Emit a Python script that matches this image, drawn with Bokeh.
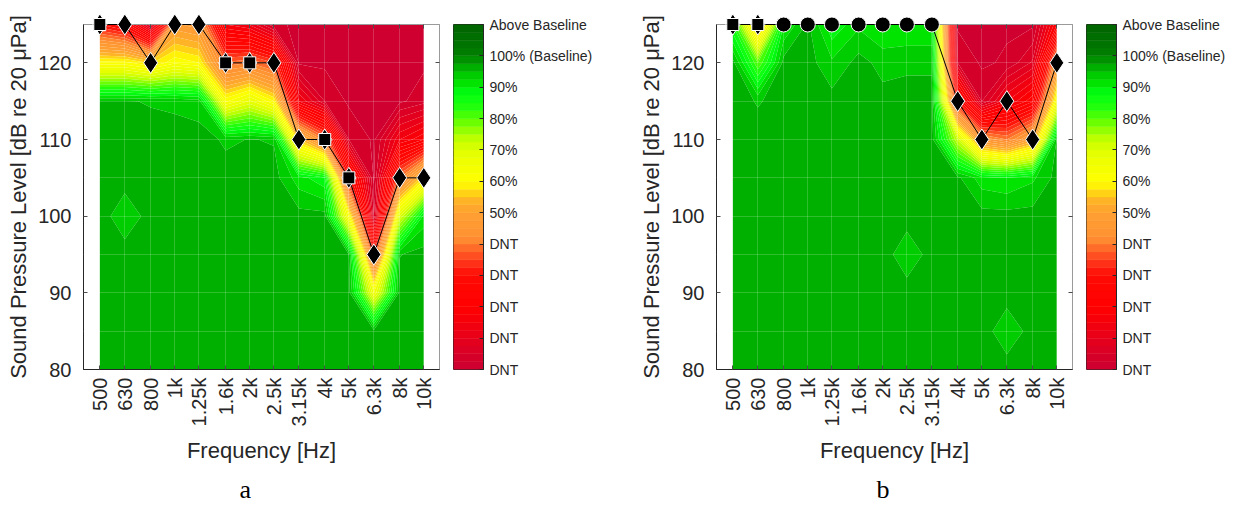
import numpy as np
from bokeh.plotting import figure
from bokeh.models import FixedTicker, Title, LinearAxis, LogAxis
from bokeh.layouts import row
from bokeh.embed import file_html
from bokeh.resources import INLINE

# ---------------- data ----------------
freqs = [500, 630, 800, 1000, 1250, 1600, 2000, 2500, 3150, 4000, 5000, 6300, 8000, 10000]
freq_labels = ["500", "630", "800", "1k", "1.25k", "1.6k", "2k", "2.5k", "3.15k",
               "4k", "5k", "6.3k", "8k", "10k"]
spl = [80, 85, 90, 95, 100, 105, 110, 115, 120, 125]

# performance (% of baseline) per frequency column; rows follow spl (80 ... 125 dB)
perf_a = [
    [96, 96, 96, 96, 96, 96, 96, 95.2, 61, 30],      # 500
    [96, 96, 96, 96, 93.5, 96, 96, 95.2, 61, 25],    # 630
    [96, 96, 96, 96, 96, 96, 96, 94.8, 57, 5],       # 800
    [96, 96, 96, 96, 96, 96, 96, 94.5, 62, 48],      # 1k
    [96, 96, 96, 96, 96, 96, 96, 93.8, 60, 46],      # 1.25k
    [96, 96, 96, 96, 96, 96, 94.6, 62, 38, 15],      # 1.6k
    [96, 96, 96, 96, 96, 96, 95.1, 68, 40, 12],      # 2k
    [96, 96, 96, 96, 96, 96, 94.8, 60, 35, 3],       # 2.5k
    [96, 96, 96, 96, 96, 91, 55, 15, 2, 2],          # 3.15k
    [96, 96, 96, 96, 96, 88, 40, 5, 2, 2],           # 4k
    [96, 96, 96, 95, 62, 30, 5, 2, 2, 2],            # 5k
    [96, 96, 65, 35, 5, 2, 2, 2, 2, 2],              # 6.3k
    [96, 96, 96, 94.9, 70, 40, 15, 2, 2, 2],         # 8k
    [96, 96, 96, 96, 91, 58, 20, 4, 2, 2],           # 10k
]
perf_b = [
    [96, 96, 96, 96, 96, 96, 96, 96, 96, 85],        # 500
    [96, 96, 96, 96, 96, 96, 96, 94.8, 80, 50],      # 630
    [96, 96, 96, 96, 96, 96, 96, 96, 96, 90],        # 800
    [96, 96, 96, 96, 96, 96, 96, 96, 96, 95.5],      # 1k
    [96, 96, 96, 96, 96, 96, 96, 96, 93, 88],        # 1.25k
    [96, 96, 96, 96, 96, 96, 96, 96, 96, 92],        # 1.6k
    [96, 96, 96, 96, 96, 96, 96, 96, 94, 90],        # 2k
    [96, 96, 96, 93.5, 96, 96, 96, 96, 94.5, 90],    # 2.5k
    [96, 96, 96, 96, 96, 96, 96, 96, 94.5, 90],      # 3.15k
    [96, 96, 96, 96, 96, 95.5, 72, 30, 5, 2],        # 4k
    [96, 96, 96, 96, 96, 91, 45, 5, 2, 2],           # 5k
    [96, 93.5, 96, 96, 96, 90, 40, 15, 3, 2],        # 6.3k
    [96, 96, 96, 96, 96, 92, 50, 22, 8, 2],          # 8k
    [96, 96, 96, 96, 96, 96, 95.5, 64, 46, 20],      # 10k
]

# threshold markers
thr_a = [125, 125, 120, 125, 125, 120, 120, 120, 110, 110, 105, 95, 105, 105]
mk_a = ["square", "diamond", "diamond", "diamond", "diamond", "square", "square",
        "diamond", "diamond", "square", "square", "diamond", "diamond", "diamond"]
thr_b = [125, 125, 125, 125, 125, 125, 125, 125, 125, 115, 110, 115, 110, 120]
mk_b = ["square", "square", "circle", "circle", "circle", "circle", "circle",
        "circle", "circle", "diamond", "diamond", "diamond", "diamond", "diamond"]

cbar_ticks = [0, 10, 20, 30, 40, 50, 60, 70, 80, 90, 100, 110]
cbar_labels = ["DNT", "DNT", "DNT", "DNT", "DNT", "50%", "60%", "70%", "80%", "90%",
               "100% (Baseline)", "Above Baseline"]

# ---------------- colours ----------------
anchors = [
    (0, (204, 0, 51)), (8, (224, 0, 32)), (15, (245, 0, 12)), (20, (255, 0, 0)),
    (30, (255, 10, 5)), (34, (255, 50, 25)), (38, (255, 100, 40)), (42, (255, 145, 50)),
    (50, (255, 160, 50)), (55, (255, 185, 35)), (57, (255, 225, 15)), (60, (255, 255, 0)),
    (68, (235, 255, 0)), (73, (200, 255, 0)), (78, (120, 255, 0)), (83, (40, 255, 10)),
    (88, (0, 255, 20)), (91, (0, 230, 0)), (93.75, (0, 205, 0)), (96.25, (0, 176, 0)),
    (100, (0, 130, 0)), (104, (0, 115, 0)), (110, (0, 100, 0)),
]
av = np.array([a[0] for a in anchors], float)
ac = np.array([a[1] for a in anchors], float)
levels = list(np.arange(0, 110.001, 2.5))
mids = [(levels[i] + levels[i + 1]) / 2 for i in range(len(levels) - 1)]
band_colors = []
for m in mids:
    rgb = [int(round(np.interp(m, av, ac[:, k]))) for k in range(3)]
    band_colors.append("#%02x%02x%02x" % tuple(rgb))

FONT = "Liberation Sans"
TXT = "#262626"
BOX = "#9a9a9a"
YTICKS = [80, 90, 100, 110, 120]


def make_panel(perf, thr, mk, caption, cap_offset):
    p = figure(x_axis_type="log", x_range=(430, 11560), y_range=(80, 125),
               frame_width=356, frame_height=345,
               min_border_left=83, min_border_top=24, min_border_right=14,
               min_border_bottom=139,
               output_backend="svg", toolbar_location=None)
    X, Y = np.meshgrid(np.array(freqs, float), np.array(spl, float))
    Z = np.array(perf, float).T
    p.contour(X, Y, Z, levels, fill_color=band_colors)

    # axes
    p.xaxis.ticker = FixedTicker(ticks=freqs)
    p.xaxis.major_label_overrides = {f: l for f, l in zip(freqs, freq_labels)}
    p.xaxis.major_label_orientation = np.pi / 2
    p.yaxis.ticker = FixedTicker(ticks=YTICKS, minor_ticks=[85, 95, 105, 115])
    p.xaxis.axis_label = "Frequency [Hz]"
    p.yaxis.axis_label = "Sound Pressure Level [dB re 20 \u03bcPa]"
    for ax in (p.xaxis[0], p.yaxis[0]):
        ax.axis_line_color = TXT
        ax.major_tick_line_color = TXT
        ax.major_tick_in = 4
        ax.major_tick_out = 0
        ax.minor_tick_line_color = None
        ax.major_label_text_font = FONT
        ax.major_label_text_font_size = "20px"
        ax.major_label_text_color = TXT
        ax.major_label_standoff = 8
        ax.axis_label_text_font = FONT
        ax.axis_label_text_font_size = "22px"
        ax.axis_label_text_font_style = "normal"
        ax.axis_label_text_color = TXT
    p.yaxis.axis_label_standoff = 4
    p.xaxis.axis_label_standoff = 9

    # box sides with inward ticks (no visible labels)
    ra = LinearAxis(ticker=FixedTicker(ticks=YTICKS),
                    major_tick_in=4, major_tick_out=0, minor_tick_line_color=None,
                    major_label_standoff=0, major_label_text_font_size="1px",
                    major_label_text_alpha=0,
                    axis_line_color=BOX, major_tick_line_color=TXT)
    p.add_layout(ra, "right")
    ta = LogAxis(ticker=FixedTicker(ticks=freqs),
                 major_tick_in=4, major_tick_out=0, minor_tick_line_color=None,
                 major_label_standoff=0, major_label_text_font_size="1px",
                 major_label_text_alpha=0,
                 axis_line_color=BOX, major_tick_line_color=TXT)
    p.add_layout(ta, "above")

    p.outline_line_color = BOX
    p.xgrid.grid_line_color = "white"
    p.xgrid.grid_line_alpha = 0.18
    p.ygrid.grid_line_color = "white"
    p.ygrid.grid_line_alpha = 0.18
    p.ygrid.minor_grid_line_color = "white"
    p.ygrid.minor_grid_line_alpha = 0.18
    p.xgrid.level = "annotation"
    p.ygrid.level = "annotation"

    # threshold line and markers
    r = p.line(freqs, thr, line_color="black", line_width=1)
    r.level = "overlay"
    dx = [f for f, m in zip(freqs, mk) if m in ("diamond", "square")]
    dy = [t for t, m in zip(thr, mk) if m in ("diamond", "square")]
    r = p.scatter(dx, dy, marker="diamond", size=21, fill_color="black",
                  line_color="white", line_width=1)
    r.level = "overlay"
    sx = [f for f, m in zip(freqs, mk) if m == "square"]
    sy = [t for t, m in zip(thr, mk) if m == "square"]
    if sx:
        r = p.scatter(sx, sy, marker="square", size=12, fill_color="black",
                      line_color="white", line_width=1)
        r.level = "overlay"
    cx = [f for f, m in zip(freqs, mk) if m == "circle"]
    cy = [t for t, m in zip(thr, mk) if m == "circle"]
    if cx:
        r = p.scatter(cx, cy, marker="circle", size=15, fill_color="black",
                      line_color="white", line_width=1)
        r.level = "overlay"

    p.add_layout(Title(text=caption, align="left", text_font="Liberation Serif",
                       text_font_size="26px", text_font_style="normal",
                       text_color="black", offset=cap_offset, standoff=12), "below")
    return p


def make_cbar(right_border):
    c = figure(x_range=(0, 1), y_range=(0, 110), frame_width=30, frame_height=345,
               min_border_left=0, min_border_top=24, min_border_bottom=139,
               min_border_right=right_border, y_axis_location="right",
               output_backend="svg", toolbar_location=None)
    c.quad(left=0, right=1, bottom=levels[:-1], top=levels[1:],
           fill_color=band_colors, line_color=band_colors, line_width=0.5)
    c.xaxis.visible = False
    c.grid.visible = False
    c.outline_line_color = TXT
    ax = c.yaxis[0]
    ax.ticker = FixedTicker(ticks=cbar_ticks)
    ax.major_label_overrides = {t: l for t, l in zip(cbar_ticks, cbar_labels)}
    ax.major_tick_in = 4
    ax.major_tick_out = 0
    ax.minor_tick_line_color = None
    ax.axis_line_color = TXT
    ax.major_tick_line_color = TXT
    ax.major_label_standoff = 6
    ax.major_label_text_font = FONT
    ax.major_label_text_font_size = "14px"
    ax.major_label_text_color = TXT
    return c


pa = make_panel(perf_a, thr_a, mk_a, "a", 156)
ca = make_cbar(150)
pb = make_panel(perf_b, thr_b, mk_b, "b", 160)
cbb = make_cbar(120)
layout = row(pa, ca, pb, cbb)
open("out.html", "w").write(file_html(layout, INLINE))
